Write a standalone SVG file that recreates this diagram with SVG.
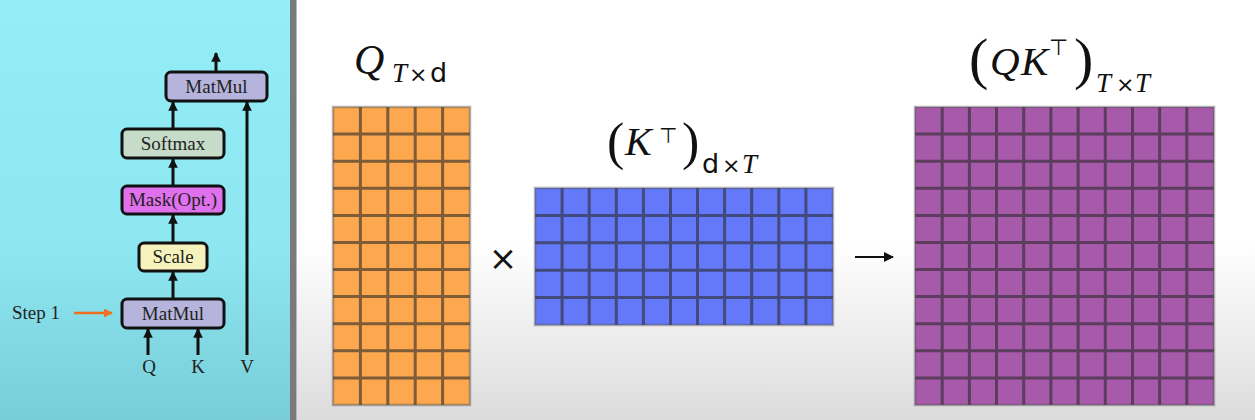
<svg xmlns="http://www.w3.org/2000/svg" width="1255" height="420" viewBox="0 0 1255 420">
<defs>
<linearGradient id="bgR" x1="0" y1="0" x2="0" y2="1">
<stop offset="0" stop-color="#ffffff"/>
<stop offset="0.58" stop-color="#ffffff"/>
<stop offset="1" stop-color="#dcdcdc"/>
</linearGradient>
<linearGradient id="bgL" x1="0" y1="0" x2="0" y2="1">
<stop offset="0" stop-color="#93eef8"/>
<stop offset="0.6" stop-color="#8de6f0"/>
<stop offset="1" stop-color="#78cdd8"/>
</linearGradient>
<marker id="ah" viewBox="0 0 10 10" refX="9" refY="5" markerWidth="3.2" markerHeight="3.2" orient="auto" markerUnits="strokeWidth">
<path d="M0,0 L10,5 L0,10 z" fill="#111"/>
</marker>
<marker id="ahB" viewBox="0 0 10 10" refX="9" refY="5" markerWidth="5" markerHeight="5" orient="auto" markerUnits="strokeWidth">
<path d="M0,0 L10,5 L0,10 z" fill="#111"/>
</marker>
<marker id="ahO" viewBox="0 0 10 10" refX="9" refY="5" markerWidth="3.6" markerHeight="3.6" orient="auto" markerUnits="strokeWidth">
<path d="M0,0 L10,5 L0,10 z" fill="#f07020"/>
</marker>
</defs>
<style>
.box{stroke:#111;stroke-width:3}
.lbl{font-family:"Liberation Serif",serif;font-size:19px;fill:#222;text-anchor:middle}
.io{font-family:"Liberation Serif",serif;font-size:19px;fill:#222;text-anchor:middle}
.con{stroke:#111;stroke-width:3;fill:none}
.grid{stroke:#2a2a2a;stroke-opacity:0.6;stroke-width:3;fill:none}
.edge{stroke:#555;stroke-opacity:0.45;stroke-width:2.5;fill:none}
.mi{font-family:"Liberation Serif",serif;font-style:italic;fill:#111}
.mr{font-family:"DejaVu Sans",sans-serif;fill:#111}
.mp{font-family:"Liberation Serif",serif;fill:#111}
</style>
<rect x="0" y="0" width="1255" height="420" fill="url(#bgR)"/>
<rect x="0" y="0" width="291" height="420" fill="url(#bgL)"/>
<rect x="290" y="0" width="6" height="420" fill="#7a7a7a"/>
<rect x="296" y="0" width="1" height="420" fill="#b8b8b8"/>

<g id="connectors">
<line class="con" x1="216" y1="72" x2="216" y2="53" marker-end="url(#ah)"/>
<line class="con" x1="173" y1="129" x2="173" y2="102" marker-end="url(#ah)"/>
<line class="con" x1="173" y1="186" x2="173" y2="159" marker-end="url(#ah)"/>
<line class="con" x1="173" y1="243" x2="173" y2="215" marker-end="url(#ah)"/>
<line class="con" x1="173" y1="299" x2="173" y2="272" marker-end="url(#ah)"/>
<line class="con" x1="148" y1="355" x2="148" y2="329" marker-end="url(#ah)"/>
<line class="con" x1="198" y1="355" x2="198" y2="329" marker-end="url(#ah)"/>
<line class="con" x1="247" y1="355" x2="247" y2="102" marker-end="url(#ah)"/>
<line x1="74" y1="313" x2="112" y2="313" stroke="#f07020" stroke-width="2.5" marker-end="url(#ahO)"/>
<line x1="855" y1="257" x2="893" y2="257" stroke="#111" stroke-width="2" marker-end="url(#ahB)"/>
</g>

<g id="matmul-top">
<rect class="box" x="166" y="72" width="101" height="29" rx="5" fill="#b6b4dc"/>
<text class="lbl" x="216.5" y="93">MatMul</text>
</g>
<g id="softmax">
<rect class="box" x="122" y="129" width="102" height="29" rx="5" fill="#c6dcc8"/>
<text class="lbl" x="173" y="150">Softmax</text>
</g>
<g id="mask">
<rect class="box" x="122" y="186" width="102" height="28" rx="5" fill="#e070ec"/>
<text class="lbl" x="173" y="206">Mask(Opt.)</text>
</g>
<g id="scale">
<rect class="box" x="139" y="243" width="68" height="28" rx="5" fill="#f6f2bc"/>
<text class="lbl" x="173" y="263">Scale</text>
</g>
<g id="matmul-bottom">
<rect class="box" x="122" y="299" width="102" height="29" rx="5" fill="#b6b4dc"/>
<text class="lbl" x="173" y="320">MatMul</text>
</g>
<g id="inputs">
<text class="io" x="149" y="373">Q</text>
<text class="io" x="198" y="373">K</text>
<text class="io" x="247" y="373">V</text>
</g>
<g id="step1">
<text font-family="Liberation Serif, serif" font-size="19" fill="#222" x="12" y="319">Step 1</text>
</g>

<g id="matrix-Q">
<rect x="333" y="107" width="137" height="298" fill="#fda84f"/>
<path class="grid" d="M360.4,107V405M387.8,107V405M415.2,107V405M442.6,107V405M333,134.1H470M333,161.2H470M333,188.3H470M333,215.4H470M333,242.5H470M333,269.5H470M333,296.6H470M333,323.7H470M333,350.8H470M333,377.9H470"/>
<rect class="edge" x="333" y="107" width="137" height="298"/>
<text class="mi" x="354" y="74" font-size="42">Q</text>
<text class="mi" x="392" y="82" font-size="27">T</text>
<text class="mr" x="409" y="82" font-size="22">×</text>
<text class="mr" x="430" y="82" font-size="27">d</text>
</g>

<g id="times">
<text class="mr" x="503" y="270" font-size="34" text-anchor="middle">×</text>
</g>

<g id="matrix-KT">
<rect x="535" y="188" width="298" height="137" fill="#6479f9"/>
<path class="grid" d="M562.1,188V325M589.2,188V325M616.3,188V325M643.4,188V325M670.5,188V325M697.5,188V325M724.6,188V325M751.7,188V325M778.8,188V325M805.9,188V325M535,215.4H833M535,242.8H833M535,270.2H833M535,297.6H833"/>
<rect class="edge" x="535" y="188" width="298" height="137"/>
<text class="mp" x="607" y="159" font-size="52">(</text>
<text class="mi" x="625" y="155" font-size="40">K</text>
<text class="mr" x="659" y="143" font-size="21">⊤</text>
<text class="mp" x="682" y="159" font-size="52">)</text>
<text class="mr" x="702" y="173" font-size="27">d</text>
<text class="mr" x="722" y="173" font-size="22">×</text>
<text class="mi" x="742" y="173" font-size="27">T</text>
</g>

<g id="matrix-QKT">
<rect x="915" y="107" width="299" height="298" fill="#a75aaa"/>
<path class="grid" d="M942.2,107V405M969.4,107V405M996.5,107V405M1023.7,107V405M1050.9,107V405M1078.1,107V405M1105.3,107V405M1132.5,107V405M1159.6,107V405M1186.8,107V405M915,134.1H1214M915,161.2H1214M915,188.3H1214M915,215.4H1214M915,242.5H1214M915,269.5H1214M915,296.6H1214M915,323.7H1214M915,350.8H1214M915,377.9H1214"/>
<rect class="edge" x="915" y="107" width="299" height="298"/>
<text class="mp" x="969" y="78" font-size="58">(</text>
<text class="mi" x="990" y="75" font-size="41">Q</text>
<text class="mi" x="1021" y="75" font-size="41">K</text>
<text class="mr" x="1049" y="55" font-size="22">⊤</text>
<text class="mp" x="1074" y="78" font-size="58">)</text>
<text class="mi" x="1096" y="92" font-size="27">T</text>
<text class="mr" x="1116" y="92" font-size="22">×</text>
<text class="mi" x="1135" y="92" font-size="27">T</text>
</g>
</svg>
